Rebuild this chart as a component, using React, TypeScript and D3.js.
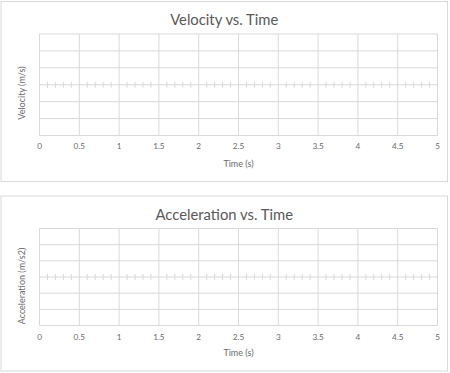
import React from "react";
import * as d3 from "d3";

const xDomain = [0, 5];
const yDomain = [-3, 3];
const xMajorTicks = [0, 0.5, 1, 1.5, 2, 2.5, 3, 3.5, 4, 4.5, 5];
const xMinorTicks = [0.1, 0.2, 0.3, 0.4, 0.6, 0.7, 0.8, 0.9, 1.1, 1.2, 1.3, 1.4, 1.6, 1.7, 1.8, 1.9, 2.1, 2.2, 2.3, 2.4, 2.6, 2.7, 2.8, 2.9, 3.1, 3.2, 3.3, 3.4, 3.6, 3.7, 3.8, 3.9, 4.1, 4.2, 4.3, 4.4, 4.6, 4.7, 4.8, 4.9];
const yGridTicks = [-3, -2, -1, 0, 1, 2, 3];
const charts = [
  { title: "Velocity vs. Time", yTitle: "Velocity (m/s)", xTitle: "Time (s)" },
  { title: "Acceleration vs. Time", yTitle: "Acceleration (m/s2)", xTitle: "Time (s)" },
];

const layouts = [
  { box: [1, 1.5, 446.5, 180], plot: [39.5, 34, 437.5, 135.5], titleY: 19, tickY: 146, xTitleY: 163, yTitleX: 21, yTitleY: 93 },
  { box: [1, 196, 446.5, 175], plot: [39.5, 228.5, 437.5, 325.5], titleY: 213.5, tickY: 336.5, xTitleY: 352.5, yTitleX: 21.5, yTitleY: 286 },
];

const GRID = "#d9d9d9";
const TEXT = "#595959";
const SMALL = "#6a6a6a";
const FONT = "Lato, 'Open Sans', sans-serif";

function Chart({ cfg, lay }: any) {
  const [x0, y0, x1, y1] = lay.plot;
  const x = d3.scaleLinear().domain(xDomain).range([x0, x1]);
  const y = d3.scaleLinear().domain(yDomain).range([y1, y0]);
  const cx = (x0 + x1) / 2;
  const boxCx = lay.box[0] + lay.box[2] / 2;
  return (
    <g>
      <rect x={lay.box[0]} y={lay.box[1]} width={lay.box[2]} height={lay.box[3]} fill="#fff" stroke={GRID} strokeWidth={1} />
      <text x={boxCx} y={lay.titleY} textAnchor="middle" dominantBaseline="central" fontSize={14.8} fill={TEXT} fontFamily={FONT}>{cfg.title}</text>
      {yGridTicks.map((t) => (
        <line key={"h" + t} x1={x0} x2={x1} y1={y(t)} y2={y(t)} stroke={GRID} strokeWidth={1} />
      ))}
      {xMajorTicks.map((t) => (
        <line key={"v" + t} x1={x(t)} x2={x(t)} y1={y0} y2={y1} stroke={GRID} strokeWidth={1} />
      ))}
      {xMinorTicks.map((t) => (
        <line key={"m" + t} x1={x(t)} x2={x(t)} y1={y(0) - 3} y2={y(0) + 3} stroke={GRID} strokeWidth={1} />
      ))}
      {xMajorTicks.map((t) => (
        <text key={"l" + t} x={x(t)} y={lay.tickY} textAnchor="middle" dominantBaseline="central" fontSize={8.2} fill={SMALL} fontFamily={FONT}>{String(t)}</text>
      ))}
      <text x={cx} y={lay.xTitleY} textAnchor="middle" dominantBaseline="central" fontSize={9} fill={SMALL} fontFamily={FONT}>{cfg.xTitle}</text>
      <text transform={`translate(${lay.yTitleX},${lay.yTitleY}) rotate(-90)`} textAnchor="middle" dominantBaseline="central" fontSize={9} fill={SMALL} fontFamily={FONT}>{cfg.yTitle}</text>
    </g>
  );
}

export default function App() {
  return (
    <svg width={450} height={373} style={{ position: "absolute", left: 0, top: 0, background: "#fff" }}>
      {charts.map((c, i) => (
        <Chart key={i} cfg={c} lay={layouts[i]} />
      ))}
    </svg>
  );
}
